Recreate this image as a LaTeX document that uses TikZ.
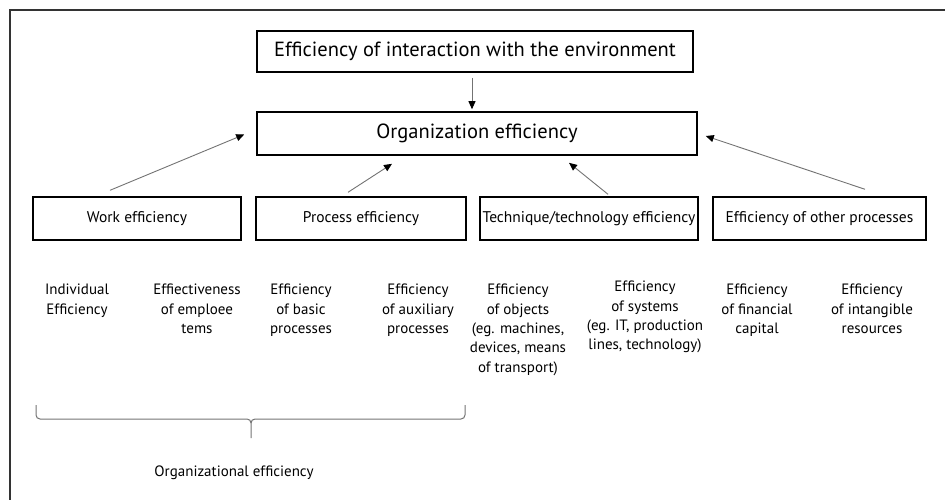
\documentclass[tikz,border=0pt]{standalone}
\usepackage{fontspec}
\setmainfont{PT Sans}
\usetikzlibrary{arrows.meta}
\begin{document}
\begin{tikzpicture}[x=1pt,y=-1pt,
  bigbox/.style={draw=black,line width=1.6pt,inner sep=0pt,
    font=\fontsize{20.5}{24}\selectfont},
  rowbox/.style={draw=black,line width=1.4pt,inner sep=0pt,
    minimum height=43pt,font=\fontsize{15.5}{18}\selectfont},
  item/.style={align=center,anchor=north,inner sep=0pt,
    font=\fontsize{15}{19.3}\selectfont},
  link/.style={draw=black!55,line width=0.9pt,
    -{Triangle[length=8pt,width=7pt,color=black]}},
  frame/.style={draw=black!80,line width=1.6pt},
  brace/.style={draw=black!55,line width=1pt}]
\useasboundingbox (0,0) rectangle (945,500);

% partial outer frame
\draw[frame] (945,10) -- (10,10) -- (10,500);

% top level boxes
\node[bigbox,minimum width=436pt,minimum height=41pt] (env) at (475,51.5)
  {Efficiency of interaction with the environment};
\node[bigbox,minimum width=440pt,minimum height=43pt] (org) at (477,133.5)
  {Organization efficiency};

% second level boxes
\node[rowbox,minimum width=208pt] (work)  at (137,218.5) {Work efficiency};
\node[rowbox,minimum width=210pt] (proc)  at (361,218.5) {Process efficiency};
\node[rowbox,minimum width=218pt] (tech)  at (589,218.5) {Technique/technology efficiency};
\node[rowbox,minimum width=213pt] (other) at (819.5,218.5) {Efficiency of other processes};

% connectors
\draw[link] ([shift={(-3,5)}]env.south) -- ([shift={(-5,-2)}]org.north);
\draw[link] ([shift={(-27,-6)}]work.north) -- ([shift={(-12,1)}]org.west);
\draw[link] ([shift={(-13,-4)}]proc.north) -- ([shift={(-85,8)}]org.south);
\draw[link] ([shift={(19,-2)}]tech.north) -- ([shift={(92,7)}]org.south);
\draw[link] ([shift={(45.5,-7)}]other.north) -- ([shift={(8,2.5)}]org.east);

% detailed components
\node[item] (indiv) at (77,284)  {Individual\\Efficiency};
\node[item] (team)  at (197,284) {Effiectiveness\\of emploee\\tems};
\node[item] (basic) at (301,284) {Efficiency\\of basic\\processes};
\node[item] (aux)   at (418,284) {Efficiency\\of auxiliary\\processes};
\node[item] (objs)  at (518,284) {Efficiency\\of objects\\(eg. machines,\\devices, means\\of transport)};
\node[item] (sys)   at (645,281) {Efficiency\\of systems\\(eg. IT, production\\lines, technology)};
\node[item] (fin)   at (757,284) {Efficiency\\of financial\\capital};
\node[item] (intan) at (872,284) {Efficiency\\of intangible\\resources};

% brace grouping the first four components
\draw[brace] (36,405) -- (36,415) to[out=-90,in=180] (40,419) -- (247,419)
  to[out=0,in=90] (251,423) -- (251,438);
\draw[brace] (465,405) -- (465,415) to[out=-90,in=0] (461,419) -- (255,419)
  to[out=180,in=90] (251,423);
\coordinate (bracetip) at (251,438);
\node[item,anchor=center] (orgeff) at (234,473) {Organizational efficiency};
\end{tikzpicture}
\end{document}
